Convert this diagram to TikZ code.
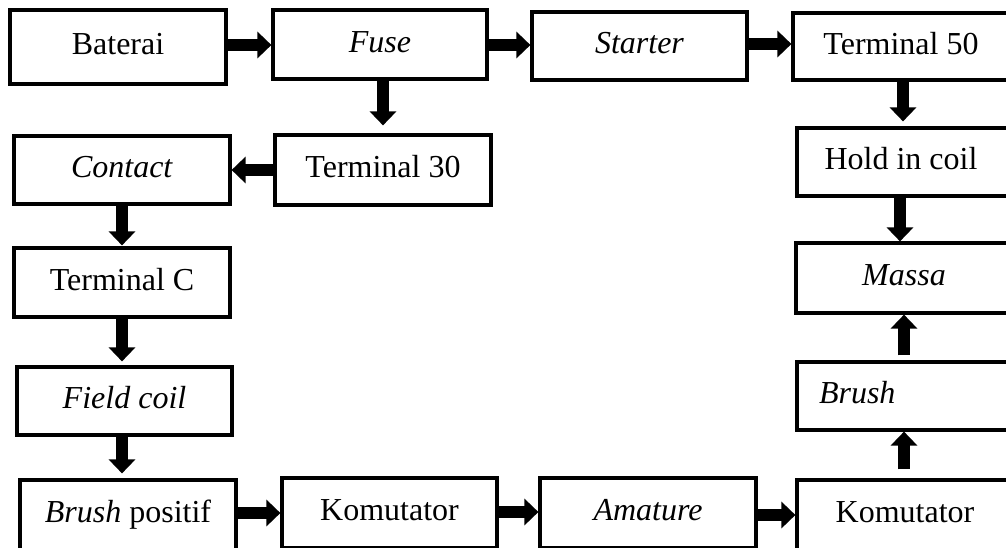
\documentclass[tikz,border=0pt]{standalone}
\usepackage{fontspec}
\setmainfont{Liberation Serif}
\usetikzlibrary{arrows.meta}
\tikzset{
  box/.style={draw=black, line width=3.2pt, minimum width=216pt, minimum height=69pt,
    inner sep=0pt, text height=23pt, text depth=8pt,
    font=\fontsize{32}{38}\selectfont, anchor=center},
  barrow/.style={line width=12pt, -{Triangle[width=26pt,length=14pt]}}
}
\begin{document}
\begin{tikzpicture}[x=1pt,y=-1pt]
\useasboundingbox (0,0) rectangle (1006,547);
\clip (0,0) rectangle (1006,547);
\fill[white] (0,0) rectangle (1006,547);
% top row
\node[box, minimum height=74pt] (bat) at (118,47) {Baterai};
\node[box, minimum width=214pt] (fuse) at (380,44.5) {\textit{Fuse}};
\node[box, minimum width=215pt, minimum height=68pt] (starter) at (639.5,46) {\textit{Starter}};
\node[box, minimum height=67pt] (t50) at (901,46.5) {Terminal 50};
% right column
\node[box, minimum height=68pt] (hold) at (905,162) {\hspace*{-8pt}Hold in coil};
\node[box, minimum height=70pt] (massa) at (904,278) {\textit{Massa}};
\node[box, minimum height=68pt, text width=172pt, inner xsep=22pt, align=left] (brush) at (905,396) {\textit{Brush}};
\node[box, minimum height=70pt] (kom2) at (905,515) {Komutator};
% left column
\node[box, minimum height=68pt] (contact) at (122,170) {\textit{Contact}};
\node[box, minimum height=70pt] (t30) at (383,170) {Terminal 30};
\node[box] (termc) at (122,282.5) {Terminal C};
\node[box, minimum width=215pt, minimum height=68pt] (field) at (124.5,401) {\textit{Field coil}};
% bottom row
\node[box, minimum height=70pt] (bp) at (128,515) {\textit{Brush} positif};
\node[box, minimum width=215pt, minimum height=70pt] (kom1) at (389.5,513) {Komutator};
\node[box, minimum height=70pt] (ama) at (648,513) {\textit{Amature}};
% arrows
\draw[barrow] (bat.east |- 0,45) -- (fuse.west |- 0,45);
\draw[barrow] (fuse.east |- 0,45) -- (starter.west |- 0,45);
\draw[barrow] (starter.east |- 0,44) -- (t50.west |- 0,44);
\draw[barrow] (fuse.south -| 383,0) -- ([yshift=8pt]t30.north -| 383,0);
\draw[barrow] (t30.west |- 0,170) -- (contact.east |- 0,170);
\draw[barrow] (contact.south) -- ([yshift=1pt]termc.north);
\draw[barrow] (termc.south -| 122,0) -- ([yshift=4pt]field.north -| 122,0);
\draw[barrow] (field.south -| 122,0) -- ([yshift=5pt]bp.north -| 122,0);
\draw[barrow] (bp.east |- 0,513) -- (kom1.west |- 0,513);
\draw[barrow] (kom1.east |- 0,512) -- (ama.west |- 0,512);
\draw[barrow] (ama.east |- 0,515) -- (kom2.west |- 0,515);
\draw[barrow] (t50.south -| 903,0) -- ([yshift=5pt]hold.north -| 903,0);
\draw[barrow] (hold.south -| 900,0) -- (massa.north -| 900,0);
\draw[barrow] ([yshift=9pt]kom2.north -| 904,0) -- (brush.south -| 904,0);
\draw[barrow] ([yshift=5pt]brush.north -| 904,0) -- (massa.south -| 904,0);
\end{tikzpicture}
\end{document}
